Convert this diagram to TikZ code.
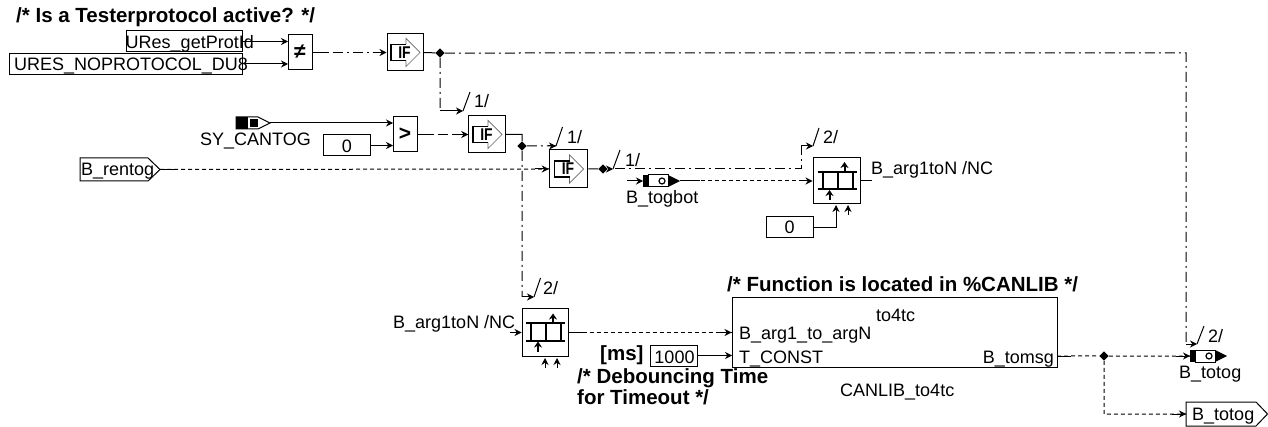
\documentclass[tikz,border=0pt]{standalone}
\usepackage{fontspec}
\setmainfont{Liberation Sans}
\usetikzlibrary{arrows.meta,calc}
\tikzset{
  wire/.style={line width=1pt,draw=black},
  sig/.style={wire,-{Stealth[length=7pt,width=7pt]}},
  ddash/.style={wire,dash pattern=on 10pt off 4pt on 2pt off 4pt},
  sdash/.style={wire,dash pattern=on 4pt off 3pt},
  block/.style={draw=black,line width=1pt,fill=white,inner sep=0pt,rectangle},
  lab/.style={anchor=base west,inner sep=0pt,font=\fontsize{18}{20}\selectfont},
  labr/.style={lab,anchor=base east},
  labc/.style={lab,anchor=base},
  blab/.style={lab,font=\fontsize{20.5}{22}\selectfont\bfseries},
  dot/.style={fill=black,draw=none,shape=rectangle,rotate=45,minimum size=6.5pt,inner sep=0pt},
  tick/.style={wire},
  ifglyph/.pic={
    \draw[draw=black!60,line width=0.7pt,fill=white] (1,-8)--(1,-14)--(15,0)--(1,14)--(1,8);
    \draw[black,line width=1.6pt] (1,-8)--(-14,-8)--(-14,8)--(1,8);
    \node[inner sep=0pt,font=\fontsize{17}{17}\selectfont\bfseries] at (-0.5,0) {\addfontfeature{FakeStretch=0.82}IF};
  },
  mtxglyph/.pic={
    \draw[black,line width=2pt] (-19,-9)--(20,-9) (-19,8)--(20,8) (-14,-9)--(-14,8) (1,-9)--(1,8) (16,-9)--(16,8);
    \draw[black,line width=2pt,-{Stealth[length=6pt,width=8pt]}] (8,-9)--(8,-19);
    \draw[black,line width=2pt,-{Stealth[length=6pt,width=8pt]}] (-7,19)--(-7,9);
  },
  pluspic/.pic={
    \draw[wire,fill=white] (5,-6) rectangle (25,6);
    \fill[black] (0,-6) rectangle (5,6);
    \fill[black] (25,-6)--(37,0)--(25,6)--cycle;
    \draw[black,line width=1.2pt] (19,0) circle (3);
  }
}
% horizontal signal: dashed body with solid stubs at both ends
\newcommand\hsig[3]{%
  \draw[#1] (#2) -- (#3);
  \draw[wire] (#2) -- ($(#2)+(14,0)$);
  \draw[sig] ($(#3)+(-14,0)$) -- (#3);
}
\begin{document}
\begin{tikzpicture}[x=1pt,y=-1pt]
\useasboundingbox[fill=white] (0,0) rectangle (1268,427);

% title
\node[blab] (ttl) at (16,23) {/* Is a Testerprotocol active? */};

% first row inputs
\node[block,minimum width=116pt,minimum height=21pt] (bget) at (184,41.5) {};
\node[block,minimum width=233pt,minimum height=21pt] (bnop) at (125.5,64.5) {};
\node[labr] (tget) at (254,49) {URes\_getProtId};
\node[lab] (tnop) at (14,71) {URES\_NOPROTOCOL\_DU8};

% compare blocks
\node[block,minimum width=24pt,minimum height=35pt] (ne) at (300,52.5) {};
\node[inner sep=0pt,font=\fontsize{21}{21}\selectfont\bfseries] (nes) at (300,52) {≠};
\node[block,minimum width=24pt,minimum height=35pt] (gt) at (405,134.5) {};
\node[inner sep=0pt,font=\fontsize{21}{21}\selectfont\bfseries] (gts) at (405,134) {>};

% IF blocks
\node[block,minimum width=36pt,minimum height=37pt] (if1) at (405,52.5) {};
\pic at (if1) {ifglyph};
\node[block,minimum width=36.5pt,minimum height=37pt] (if2) at (487,134.5) {};
\pic at (if2) {ifglyph};
\node[block,minimum width=38.5pt,minimum height=38pt] (if3) at (568.5,169) {};
\pic at (if3) {ifglyph};

% matrix blocks
\node[block,minimum width=47pt,minimum height=46pt] (m1) at (836.5,181) {};
\pic at (m1) {mtxglyph};
\node[block,minimum width=46pt,minimum height=47pt] (m2) at (545,332.5) {};
\pic at (m2) {mtxglyph};

% constant boxes
\node[block,minimum width=47pt,minimum height=21pt] (c0a) at (347,145.5) {};
\node[labc] (t0a) at (347,152.5) {0};
\node[block,minimum width=47pt,minimum height=21pt] (c0b) at (789.5,227.5) {};
\node[labc] (t0b) at (789.5,234) {0};
\node[block,minimum width=47pt,minimum height=21pt] (c1k) at (673.5,355.5) {};
\node[labc] (t1k) at (674.5,363) {1000};

% big block
\node[block,minimum width=325pt,minimum height=69pt] (big) at (894.5,332.5) {};
\node[lab] (tt4) at (876,322) {to4tc};
\node[lab] (targ) at (739,339) {B\_arg1\_to\_argN};
\node[lab] (tcon) at (739,363) {T\_CONST};
\node[labr] (tmsg) at (1054,363) {B\_tomsg};
\node[lab] (tcan) at (840,396) {CANLIB\_to4tc};
\node[blab] (tfun) at (727,292) {/* Function is located in \%CANLIB */};
\node[blab] (tms) at (600,360) {[ms]};
\node[blab] (tdeb) at (577,383) {/* Debouncing Time};
\node[blab] (ttim) at (577,404) {for Timeout */};

% tags
\coordinate (srt) at (160,169.5);
\draw[block] (80,158)--(148,158)--(160,169.5)--(148,181)--(80,181)--cycle;
\node[lab] (trent) at (81,176) {B\_rentog};
\coordinate (tot) at (1186,414);
\draw[block] (1186,402)--(1256,402)--(1267.5,414)--(1256,426)--(1186,426)--cycle;
\node[lab] (ttot) at (1192,420) {B\_totog};

% SY_CANTOG source
\coordinate (syl) at (236,123);
\coordinate (syt) at (270,123);
\draw[wire,fill=white] (236,117)--(258,117)--(270,123)--(258,129)--(236,129)--cycle;
\fill[black] (236,117) rectangle (248,129);
\fill[black] (250,119) rectangle (258,127);
\node[lab] (tsy) at (200,146) {SY\_CANTOG};

% B_togbot and B_totog ports
\pic at (643,181) {pluspic};
\coordinate (tbl) at (643,181);
\coordinate (tbr) at (680,181);
\coordinate (tbs) at (627,181);
\node[lab] (ttb) at (626,204) {B\_togbot};
\pic at (1190,356) {pluspic};
\coordinate (ttl2) at (1190,356);
\node[lab] (ttt) at (1179,378) {B\_totog};

% junctions
\node[dot] (j1) at (440,53) {};
\node[dot] (j2) at (522,146) {};
\node[dot] (j3) at (603,169) {};
\node[dot] (j4) at (1104,356) {};

% solid inputs
\draw[sig] (242,41.5) -- (288,41.5);
\draw[sig] (242,64) -- (288,64);
\draw[sig] (syt) -- (393,123);
\draw[sig] (c0a.east) -- (393,145.5);

% compare to IF
\coordinate (ne2) at (ne.east);
\coordinate (if1w) at (if1.west);
\hsig{ddash}{ne2}{if1w}
\coordinate (gt2) at (gt.east);
\coordinate (if2w) at (if2.west);
\hsig{ddash}{gt2}{if2w}
\coordinate (if3w) at (if3.west);
\draw[sdash] (srt) -- (if3w);
\draw[wire] (srt) -- ++(14,0);
\draw[sig] ($(if3w)+(-14,0)$) -- (if3w);

% IF outputs
\draw[wire] (if1.east) -- (j1);
\draw[ddash] (j1) -- (1186,53) -- (1186,344);
\draw[sig] (1186,344) -- (1197,344);
\draw[ddash] (j1) -- (440,111);
\draw[sig] (440,111) -- (463,111);
\draw[tick] (463,111) -- ++(7,-19);
\node[lab] (n1a) at (474,108) {1/};

\draw[wire] (if2.east) -- (522,134.5) -- (j2);
\draw[ddash] (j2) -- (556,146);
\draw[sig] (548,146) -- (556,146);
\draw[tick] (556,146) -- ++(6.5,-19);
\node[lab] (n1b) at (567,144) {1/};
\draw[ddash] (j2) -- (522,297);
\draw[sig] (522,297) -- (534,297);
\draw[tick] (534,297) -- ++(6.5,-19);
\node[lab] (n2a) at (543,295) {2/};

\draw[wire] (if3.east) -- (j3);
\draw[sig] (j3) -- (613,169);
\draw[tick] (613,169) -- ++(7,-19);
\node[lab] (n1c) at (625,167) {1/};
\draw[ddash] (615,169) -- (801,169) -- (801,146);
\draw[sig] (801,146) -- (813,146);
\draw[tick] (813,146) -- ++(6,-18);
\node[lab] (n2b) at (823,144) {2/};

% B_togbot path
\draw[sig] (tbs) -- (tbl);
\coordinate (m1w) at (m1.west);
\draw[sdash] (tbr) -- (m1w);
\draw[wire] (tbr) -- ++(20,0);
\draw[sig] ($(m1w)+(-14,0)$) -- (m1w);

% upper matrix connections
\draw[wire] (m1.east) -- ++(11,0);
\node[lab] (tm1) at (871,175) {B\_arg1toN /NC};
\draw[sig] (c0b.east) -- (836,227.5) -- (836,205);
\coordinate (m1s) at (848,215);
\draw[sig] (m1s) -- (848,205);

% lower matrix connections
\node[lab] (tm2) at (393,328) {B\_arg1toN /NC};
\coordinate (m2i) at (510,332.5);
\draw[sig] (m2i) -- (m2.west);
\coordinate (m2s1) at (545,368);
\coordinate (m2s2) at (557,368);
\draw[sig] (m2s1) -- (545,358);
\draw[sig] (m2s2) -- (557,358);
\coordinate (m2e) at (m2.east);
\coordinate (bigi) at (big.west);
\hsig{sdash}{m2e}{bigi}

% into big
\draw[sig] (c1k.east) -- (732,355.5);

% big output
\coordinate (bo) at (1057,356);
\draw[sdash] (bo) -- (j4);
\draw[wire] (bo) -- ++(14,0);
\draw[sdash] (j4) -- (1190,356);
\draw[sig] (1176,356) -- (ttl2);
\draw[sdash] (j4) -- (1104,414) -- (tot);
\draw[sig] (1172,414) -- (tot);

% 2/ at the B_totog port
\draw[tick] (1197,344) -- ++(7,-18);
\node[lab] (n2c) at (1208,342) {2/};
\end{tikzpicture}
\end{document}
